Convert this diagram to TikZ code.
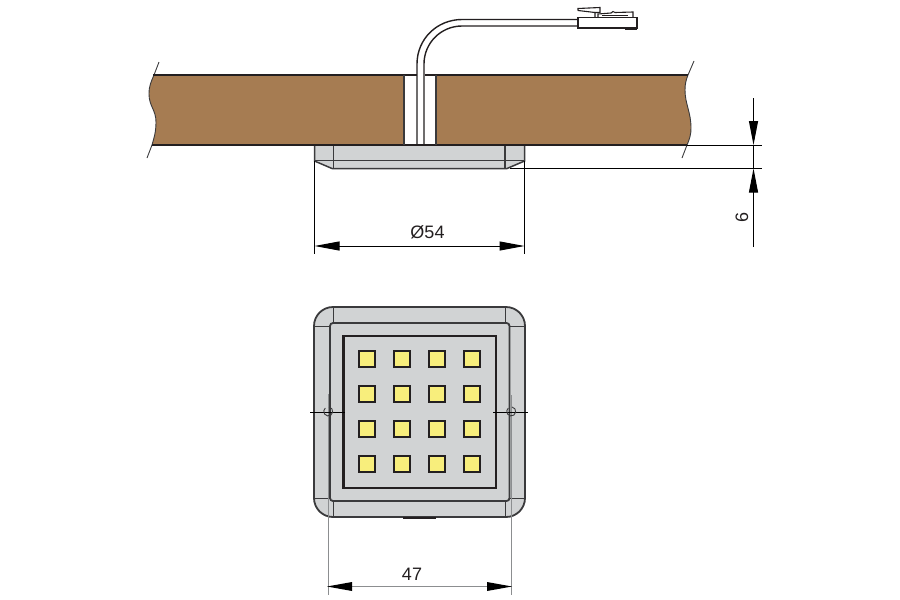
\documentclass[tikz,border=0pt]{standalone}
\usepackage{fontspec}
\setmainfont{Liberation Sans}
\usetikzlibrary{arrows.meta}
\definecolor{wood}{HTML}{A67C52}
\definecolor{body}{HTML}{D1D3D4}
\definecolor{ink}{HTML}{231F20}
\definecolor{edge}{HTML}{3A3A3C}
\definecolor{led}{HTML}{F8EE7C}
\definecolor{dimgray}{HTML}{8C8E90}
\tikzset{
  dimline/.style={draw=black,line width=1pt},
  dimarrows/.style={dimline,{Triangle[length=25pt,width=9pt]}-{Triangle[length=25pt,width=9pt]}},
  dimtext/.style={font=\fontsize{18}{18}\selectfont,text=ink,inner sep=0pt},
  boardedge/.style={draw=ink,line width=2.4pt},
  breakline/.style={draw=edge,line width=0.9pt},
  part/.style={draw=edge,line width=1.8pt},
  cross/.style={draw=black,line width=0.9pt},
  conn/.style={draw=ink,line width=1.4pt},
  ledbox/.style={draw=ink,fill=led,line width=2pt,minimum size=16.5pt,inner sep=0pt}
}
\begin{document}
\begin{tikzpicture}[x=1pt,y=-1pt]
\useasboundingbox (0,0) rectangle (900,600);
% board
\fill[wood] (154,75) .. controls (151,82) and (149,86) .. (149,94)
  .. controls (149,106) and (156,110) .. (156,122)
  .. controls (156,132) and (154,138) .. (152,145) -- (687,145)
  .. controls (690,138) and (691,134) .. (691,128)
  .. controls (691,112) and (685,104) .. (685,90)
  .. controls (685,84) and (686,80) .. (688,75) -- cycle;
\draw[breakline] (159,62) -- (154,75) .. controls (151,82) and (149,86) .. (149,94)
  .. controls (149,106) and (156,110) .. (156,122)
  .. controls (156,132) and (154,138) .. (152,145) -- (147,158);
\draw[breakline] (694,61) -- (688,75) .. controls (686,80) and (685,84) .. (685,90)
  .. controls (685,104) and (691,112) .. (691,128)
  .. controls (691,134) and (690,138) .. (687,145) -- (682,158);
% hole
\fill[white] (404,75) rectangle (436,145);
\draw[boardedge] (153,75) -- (416.5,75) (424.5,75) -- (688,75);
\draw[boardedge] (152,145) -- (687,145);
\draw[draw=edge,line width=1.3pt] (404,75) -- (404,145) (436,75) -- (436,145);
% cable
\draw[conn] (417,145) -- (417,64) .. controls (417,39) and (437,19.5) .. (462,19.5) -- (578,19.5);
\draw[conn] (424,145) -- (424,64) .. controls (424,43) and (441,26) .. (462,26) -- (578,26);
% connector
\draw[conn,fill=white] (578,17.5) rectangle (637,28);
\draw[conn,line width=1.1pt] (578,10.5) -- (578,8.5) -- (600,7.5) -- (600,12.5) -- (595,12.5) -- (595,17.5);
\draw[conn,line width=1.1pt] (578,10.5) -- (595,12.5);
\draw[conn,line width=1.1pt] (598,17.5) -- (598,14) -- (611,13) -- (613,11.5) -- (615,12.5) -- (633,12) -- (633,17.5);
\draw[conn,line width=0.8pt] (602,15.5) -- (628,15.5);
\draw[ink,line width=1.8pt] (625,29) -- (637,29);
% fixture side view
\fill[body] (314.5,146) -- (524.5,146) -- (524.5,161) -- (507,168.5) -- (332,168.5) -- (314.5,161) -- cycle;
\draw[part,line width=1.5pt] (314.5,146) -- (314.5,161) -- (332,168.5) -- (507,168.5) -- (524.5,161) -- (524.5,146);
\draw[part,line width=1.5pt] (333.5,146) -- (333.5,168.5) (505,146) -- (505,168.5);
\draw[part,line width=1.5pt] (314.5,160.5) -- (524.5,160.5);
% side dimension
\coordinate (dl) at (314.5,246);
\coordinate (dr) at (524.5,246);
\draw[dimline] (314.5,161) -- (314.5,254) (524.5,161) -- (524.5,254);
\draw[dimarrows] (dl) -- (dr);
\node[dimtext] (dia) at (427.5,232.5) {Ø54};
% height dimension
\coordinate (ht) at (753.5,145);
\coordinate (hb) at (753.5,168.5);
\draw[dimline] (687,145) -- (762,145);
\draw[dimline] (510,168.5) -- (762,168.5);
\draw[dimline] (ht) -- (hb);
\draw[dimline,-{Triangle[length=24pt,width=9pt]}] (753.5,98) -- (ht);
\draw[dimline,-{Triangle[length=24pt,width=9pt]}] (753.5,247) -- (hb);
\node[dimtext,rotate=90] (six) at (742,217) {6};
% front view
\draw[part,fill=body,rounded corners=19pt] (314,307) rectangle (525,517);
\draw[part,line width=1.4pt] (333.5,307) -- (333.5,323) (505.5,307) -- (505.5,323);
\draw[part,line width=1.4pt] (333.5,501) -- (333.5,517) (505.5,501) -- (505.5,517);
\draw[part,line width=1.1pt] (314,326.5) -- (330,326.5) (510,326.5) -- (525,326.5);
\draw[part,line width=1.1pt] (314,498.5) -- (330,498.5) (510,498.5) -- (525,498.5);
\draw[part,rounded corners=3pt] (330,323) rectangle (509.5,501);
\draw[draw=ink,line width=2.8pt] (343.5,336) rectangle (496,488);
\foreach \r/\yy in {1/359,2/394,3/429,4/464}
  \foreach \c/\xx in {1/367,2/402,3/437,4/472}
    \node[ledbox] (led\r\c) at (\xx,\yy) {};
\draw[ink,line width=1.8pt] (403,518) -- (436,518);
% mounting holes
\draw[dimgray,line width=1.2pt] (328.5,394) -- (328.5,595);
\draw[dimgray,line width=1.2pt] (511.5,395) -- (511.5,595);
\draw[cross] (310,412) -- (345,412) (493,412) -- (528,412);
\draw[edge,line width=0.9pt] (329,407) arc[start angle=-80,end angle=230,radius=4.5];
\draw[edge,line width=0.9pt] (512,407) arc[start angle=-80,end angle=230,radius=4.5];
% bottom dimension
\coordinate (wl) at (327.5,586.5);
\coordinate (wr) at (512,586.5);
\draw[dimline,draw=dimgray,line width=1.2pt] (wl) -- (wr);
\fill[black] (327,586.5) -- (352,582) -- (352,591) -- cycle;
\fill[black] (512,586.5) -- (487,582) -- (487,591) -- cycle;
\node[dimtext] (wid) at (412,574) {47};
\end{tikzpicture}
\end{document}
